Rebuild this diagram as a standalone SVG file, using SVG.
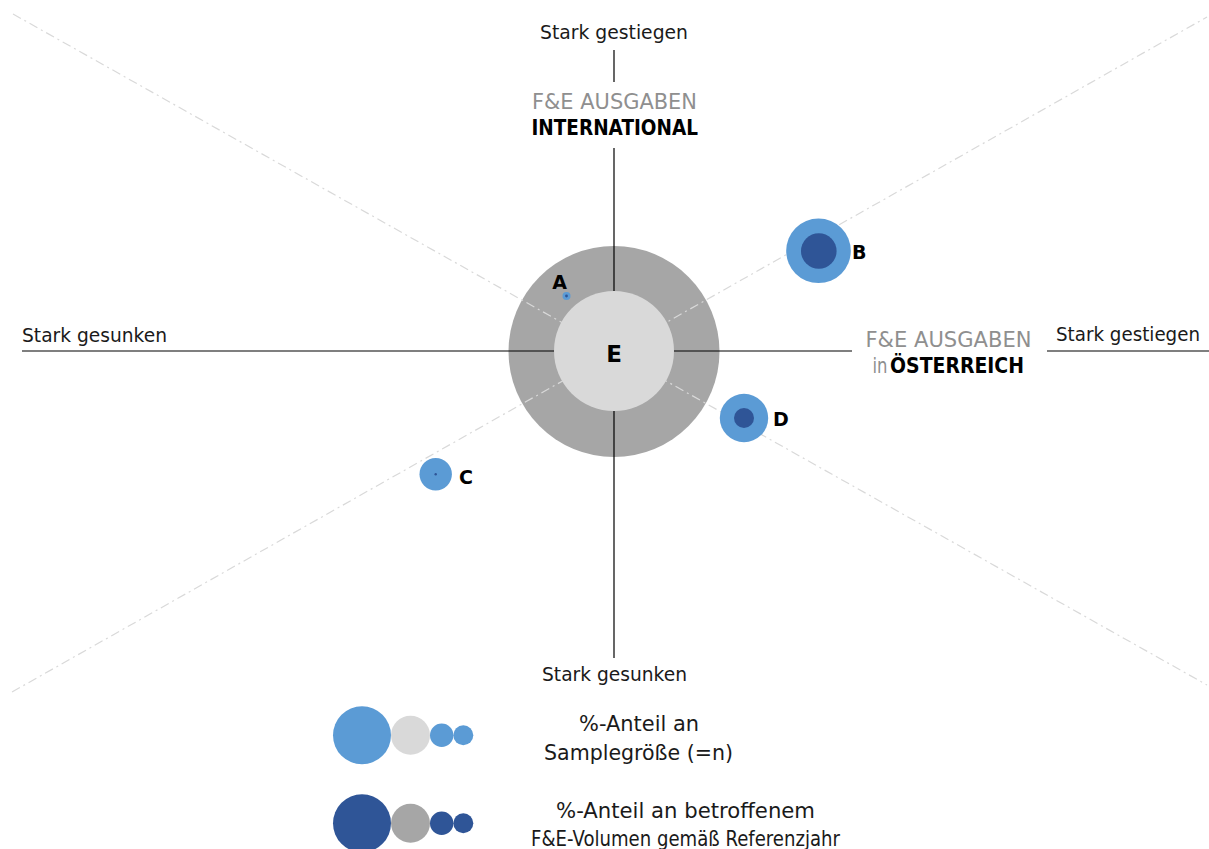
<svg xmlns="http://www.w3.org/2000/svg" width="1209" height="849" viewBox="0 0 1209 849">
<style>
.t{font-family:"DejaVu Sans","Liberation Sans",sans-serif;font-size:19.5px;fill:#1a1a1a}
.g{fill:#8f8f8f;font-size:21px}
.b{font-weight:bold;fill:#000;font-size:20.5px}
.lg{font-size:21px}
.lbl{font-family:"DejaVu Sans","Liberation Sans",sans-serif;font-weight:bold;font-size:19px;fill:#000}
.big{font-size:23px}
.axis{stroke:#000;stroke-width:1.2;fill:none}
.diag{stroke:#d9d9d9;stroke-width:1.2;stroke-dasharray:9 4 2 4;fill:none}
.lb{fill:#5b9bd5}
.db{fill:#2f5597}
</style>
<rect width="1209" height="849" fill="#fff"/>
<g id="E-ring"><circle cx="614" cy="351.5" r="105.5" fill="#a6a6a6"/></g>
<g id="connectors">
<line class="diag" x1="13" y1="14" x2="1207" y2="685"/>
<line class="diag" x1="12" y1="692" x2="1207" y2="17"/>
<line class="axis" x1="614" y1="50" x2="614" y2="82"/>
<line class="axis" x1="614" y1="148" x2="614" y2="658"/>
<line class="axis" x1="22" y1="351" x2="852" y2="351"/>
<line class="axis" x1="1047" y1="351" x2="1209" y2="351"/>
</g>
<g id="E"><circle cx="614" cy="351" r="60" fill="#d9d9d9"/><text class="lbl big" x="614" y="361.5" text-anchor="middle">E</text></g>
<g id="A"><circle class="lb" cx="566.5" cy="296" r="4"/><circle class="db" cx="566.5" cy="296" r="1.4"/><text class="lbl" x="559.5" y="289" text-anchor="middle">A</text></g>
<g id="B"><circle class="lb" cx="818.5" cy="250.8" r="32.3"/><circle class="db" cx="818.8" cy="251" r="17.8"/><text class="lbl" x="852" y="259">B</text></g>
<g id="D"><circle class="lb" cx="744" cy="418" r="24.2"/><circle class="db" cx="744" cy="418" r="10"/><text class="lbl" x="773" y="426">D</text></g>
<g id="C"><circle class="lb" cx="435.7" cy="474.3" r="16.2"/><circle class="db" cx="435.7" cy="474.3" r="1.2"/><text class="lbl" x="459" y="484">C</text></g>
<g id="labels">
<text class="t" x="540" y="39" textLength="148" lengthAdjust="spacingAndGlyphs">Stark gestiegen</text>
<text class="t g" x="532" y="109" textLength="165" lengthAdjust="spacingAndGlyphs">F&amp;E AUSGABEN</text>
<text class="t b" x="531.5" y="135" textLength="166.5" lengthAdjust="spacingAndGlyphs">INTERNATIONAL</text>
<text class="t" x="22" y="342" textLength="145" lengthAdjust="spacingAndGlyphs">Stark gesunken</text>
<text class="t g" x="865.5" y="346.5" textLength="166" lengthAdjust="spacingAndGlyphs">F&amp;E AUSGABEN</text>
<text class="t g" x="872.5" y="373" textLength="15" lengthAdjust="spacingAndGlyphs">in</text>
<text class="t b" x="890" y="373" textLength="134" lengthAdjust="spacingAndGlyphs">ÖSTERREICH</text>
<text class="t" x="1056" y="341" textLength="144" lengthAdjust="spacingAndGlyphs">Stark gestiegen</text>
<text class="t" x="542" y="681" textLength="145" lengthAdjust="spacingAndGlyphs">Stark gesunken</text>
</g>
<g id="legend">
<circle class="lb" cx="362" cy="735.3" r="29"/>
<circle cx="410.5" cy="735.3" r="19.5" fill="#d9d9d9"/>
<circle class="lb" cx="441.7" cy="735.3" r="11.7"/>
<circle class="lb" cx="463.3" cy="735.3" r="10"/>
<circle class="db" cx="362" cy="823.3" r="29"/>
<circle cx="410.5" cy="823.3" r="19.5" fill="#a6a6a6"/>
<circle class="db" cx="441.7" cy="823.3" r="11.7"/>
<circle class="db" cx="463.3" cy="823.3" r="10"/>
<text class="t lg" x="579" y="731" textLength="120" lengthAdjust="spacingAndGlyphs">%-Anteil an</text>
<text class="t lg" x="544" y="760" textLength="189" lengthAdjust="spacingAndGlyphs">Samplegröße (=n)</text>
<text class="t lg" x="556" y="818" textLength="259" lengthAdjust="spacingAndGlyphs">%-Anteil an betroffenem</text>
<text class="t lg" x="531" y="845.5" textLength="309" lengthAdjust="spacingAndGlyphs">F&amp;E-Volumen gemäß Referenzjahr</text>
</g>
</svg>
